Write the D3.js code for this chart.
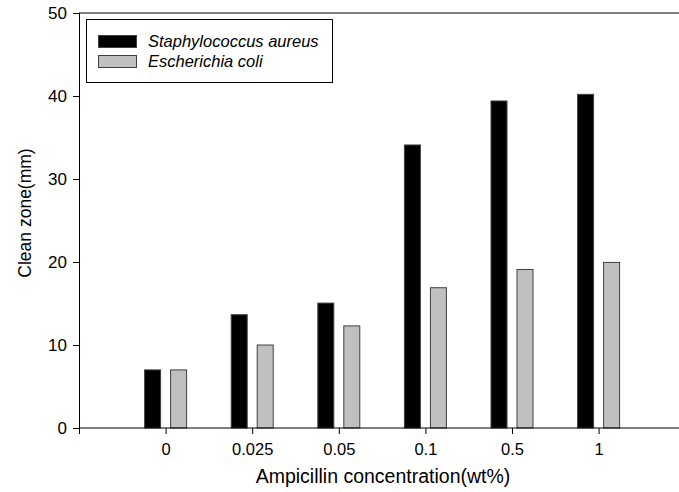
<!DOCTYPE html>
<html>
<head>
<meta charset="utf-8">
<script src="https://cdn.jsdelivr.net/npm/d3@7"></script>
<style>
  body { margin: 0; background: #fff; }
  svg { display: block; font-family: "Liberation Sans", Arial, sans-serif; }
</style>
</head>
<body>
<div id="svg-wrapper"></div>
<script>
var categories = ["0", "0.025", "0.05", "0.1", "0.5", "1"];
var aureus = [7.0, 13.65, 15.05, 34.1, 39.4, 40.2];
var coli = [7.0, 10.0, 12.3, 16.9, 19.1, 19.95];
var seriesNames = ["Staphylococcus aureus", "Escherichia coli"];
var yTicks = [0, 10, 20, 30, 40, 50];

var width = 679;
var height = 492;

var svg = d3.select("#svg-wrapper")
  .append("svg")
  .attr("width", width)
  .attr("height", height);

// categories sit at 1..6 on a linear axis running 0..7
var x = d3.scaleLinear().domain([0, 7]).range([79, 79 + 7 * 86.6]);
var y = d3.scaleLinear().domain([0, 50]).range([428, 13]);

var barW = 16, off = 13;
var fills = ["#000000", "#c0c0c0"];
var strokes = ["#404040", "#404040"];

var series = [aureus, coli];
series.forEach(function(vals, s) {
  svg.append("g")
    .selectAll("rect")
    .data(vals)
    .join("rect")
    .attr("x", (d, i) => x(i + 1) + (s === 0 ? -off : off) - barW / 2)
    .attr("y", d => y(d))
    .attr("width", barW)
    .attr("height", d => y(0) - y(d))
    .attr("fill", fills[s])
    .attr("stroke", strokes[s])
    .attr("stroke-width", 1);
});

// y axis
var yAxis = svg.append("g")
  .attr("transform", "translate(" + x(0) + ",0)")
  .call(d3.axisLeft(y).tickValues(yTicks).tickSize(6).tickPadding(6).tickFormat(d3.format("d")));
yAxis.selectAll("text").attr("font-size", 17).attr("fill", "#000").attr("font-family", null);
yAxis.selectAll("line,path").attr("stroke", "#000");

// x axis
var xAxis = svg.append("g")
  .attr("transform", "translate(0," + y(0) + ")")
  .call(d3.axisBottom(x).tickValues([0, 1, 2, 3, 4, 5, 6]).tickSize(6).tickPadding(9)
    .tickFormat(d => d === 0 ? "" : categories[d - 1]));
xAxis.select("path").attr("d", "M" + x(0) + ",0H" + x(7));
xAxis.selectAll("text").attr("font-size", 16.5).attr("fill", "#000").attr("font-family", null);
xAxis.selectAll("line,path").attr("stroke", "#000");

// top frame line
svg.append("line")
  .attr("x1", x(0)).attr("x2", x(7))
  .attr("y1", y(50)).attr("y2", y(50))
  .attr("stroke", "#000");

// axis titles
svg.append("text")
  .attr("x", 383)
  .attr("y", 483)
  .attr("text-anchor", "middle")
  .attr("font-size", 19.5)
  .text("Ampicillin concentration(wt%)");

svg.append("text")
  .attr("transform", "translate(31,213) rotate(-90)")
  .attr("text-anchor", "middle")
  .attr("font-size", 17.5)
  .text("Clean zone(mm)");

// legend
var legend = svg.append("g");
legend.append("rect")
  .attr("x", 86.5).attr("y", 19.5)
  .attr("width", 246).attr("height", 63)
  .attr("fill", "#fff")
  .attr("stroke", "#000");

var item = legend.selectAll("g.item")
  .data(seriesNames)
  .join("g")
  .attr("class", "item")
  .attr("transform", (d, i) => "translate(0," + (i * 20) + ")");
item.append("rect")
  .attr("x", 98.5).attr("y", 35.5)
  .attr("width", 38).attr("height", 12)
  .attr("fill", (d, i) => fills[i])
  .attr("stroke", (d, i) => strokes[i]);
item.append("text")
  .attr("x", 148)
  .attr("y", 46.5)
  .attr("font-size", 16.5)
  .attr("font-style", "italic")
  .text(d => d);
</script>
</body>
</html>
